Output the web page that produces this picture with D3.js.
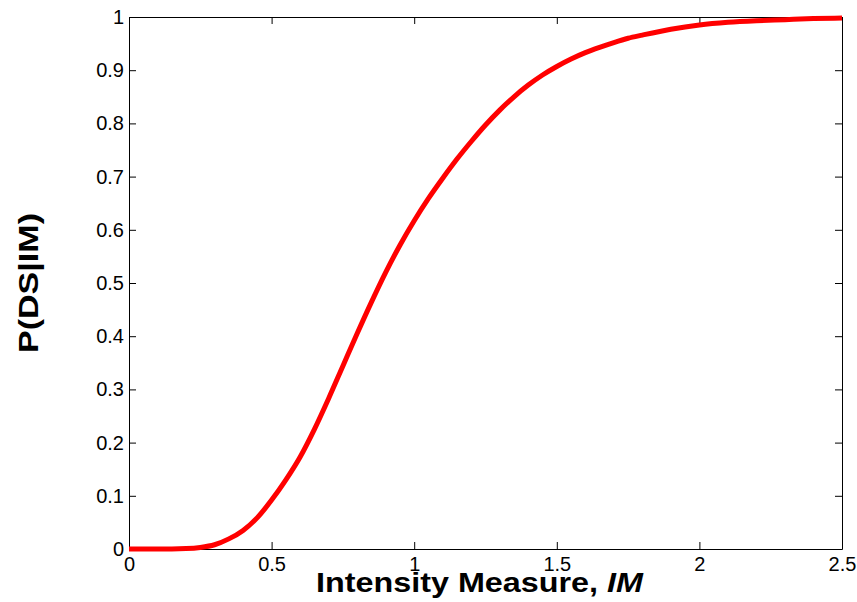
<!DOCTYPE html>
<html>
<head>
<meta charset="utf-8">
<script src="https://cdn.jsdelivr.net/npm/d3@7"></script>
<style>
  body { margin: 0; background: #fff; }
  text { font-family: Arial, "Liberation Sans", Helvetica, sans-serif; }
</style>
</head>
<body>
<div id="chart"></div>
<script>
const width = 857;
const height = 602;

// fragility curve
const im = [0, 0.1, 0.2, 0.25, 0.3, 0.35, 0.4, 0.45, 0.5, 0.55, 0.6, 0.65, 0.7, 0.75, 0.8, 0.85,
  0.9, 0.95, 1.0, 1.05, 1.1, 1.15, 1.2, 1.25, 1.3, 1.35, 1.4, 1.45, 1.5, 1.55, 1.6, 1.65, 1.7,
  1.75, 1.8, 1.9, 2.0, 2.1, 2.2, 2.3, 2.4, 2.5];
const prob = [0, 0, 0.001, 0.003, 0.008, 0.019, 0.035, 0.059, 0.092, 0.13, 0.173, 0.225, 0.283,
  0.344, 0.405, 0.464, 0.52, 0.571, 0.617, 0.659, 0.697, 0.733, 0.766, 0.797, 0.825, 0.85,
  0.872, 0.891, 0.907, 0.921, 0.933, 0.943, 0.952, 0.96, 0.966, 0.977, 0.985, 0.99, 0.993, 0.995,
  0.997, 0.998];

const xTicks = [0, 0.5, 1, 1.5, 2, 2.5];
const yTicks = [0, 0.1, 0.2, 0.3, 0.4, 0.5, 0.6, 0.7, 0.8, 0.9, 1];

const margin = {left: 129, right: 15, top: 17, bottom: 53};

const svg = d3.select("#chart")
  .append("svg")
  .attr("width", width)
  .attr("height", height);

const x = d3.scaleLinear()
  .domain([0, 2.5])
  .range([margin.left, width - margin.right]);

const y = d3.scaleLinear()
  .domain([0, 1])
  .range([height - margin.bottom, margin.top]);

const fmt = d => String(d);

// bottom axis with labels
svg.append("g")
  .attr("transform", `translate(0,${y(0)})`)
  .call(d3.axisBottom(x).tickValues(xTicks).tickSizeInner(-7).tickSizeOuter(0).tickPadding(8).tickFormat(fmt))
  .call(g => g.selectAll("text").attr("font-size", 20).attr("fill", "#000"));

// top axis, ticks only
svg.append("g")
  .attr("transform", `translate(0,${y(1)})`)
  .call(d3.axisTop(x).tickValues(xTicks).tickSizeInner(-7).tickSizeOuter(0).tickFormat(""));

// left axis with labels
svg.append("g")
  .attr("transform", `translate(${x(0)},0)`)
  .call(d3.axisLeft(y).tickValues(yTicks).tickSizeInner(-7).tickSizeOuter(0).tickPadding(5).tickFormat(fmt))
  .call(g => g.selectAll("text").attr("font-size", 20).attr("fill", "#000"));

// right axis, ticks only
svg.append("g")
  .attr("transform", `translate(${x(2.5)},0)`)
  .call(d3.axisRight(y).tickValues(yTicks).tickSizeInner(-7).tickSizeOuter(0).tickFormat(""));

svg.selectAll(".domain").attr("stroke", "#000");
svg.selectAll(".tick line").attr("stroke", "#000");

const line = d3.line()
  .x((d, i) => x(im[i]))
  .y(d => y(d))
  .curve(d3.curveMonotoneX);

svg.append("path")
  .datum(prob)
  .attr("fill", "none")
  .attr("stroke", "#ff0000")
  .attr("stroke-width", 5)
  .attr("stroke-linejoin", "round")
  .attr("d", line);

// axis titles
const xt = svg.append("text")
  .attr("x", 316)
  .attr("y", 592)
  .attr("font-size", 27)
  .attr("font-weight", "bold")
  .attr("textLength", 327)
  .attr("lengthAdjust", "spacingAndGlyphs");
xt.append("tspan").text("Intensity Measure, ");
xt.append("tspan").attr("font-style", "italic").text("IM");

svg.append("text")
  .attr("transform", `translate(38,${(y(0) + y(1)) / 2}) rotate(-90)`)
  .attr("text-anchor", "middle")
  .attr("font-size", 28)
  .attr("font-weight", "bold")
  .attr("textLength", 140)
  .attr("lengthAdjust", "spacingAndGlyphs")
  .text("P(DS|IM)");
</script>
</body>
</html>
